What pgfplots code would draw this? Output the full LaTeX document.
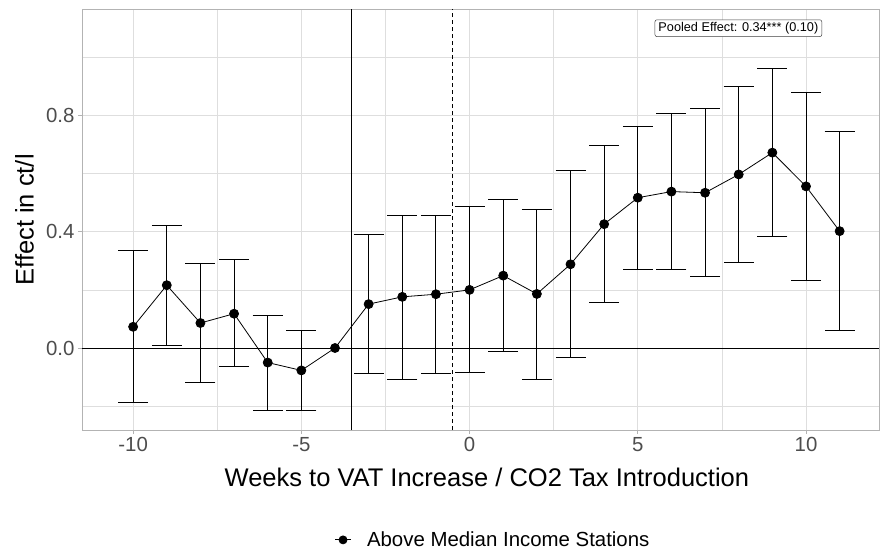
\documentclass[border=0pt]{standalone}
\usepackage{pgfplots}
\pgfplotsset{compat=1.18}
\usepackage{pgfplotstable}
\usepackage{fontspec}
\setmainfont{Liberation Sans}

\definecolor{gridgrey}{HTML}{DEDEDE}
\definecolor{bordergrey}{HTML}{B3B3B3}
\definecolor{ticktext}{HTML}{4D4D4D}

% event-study estimates with 95% confidence bounds
\pgfplotstableread{
x    y      lo      hi
-10  0.073  -0.188  0.334
-9   0.216   0.008  0.423
-8   0.086  -0.117  0.290
-7   0.118  -0.064  0.303
-6  -0.050  -0.214  0.112
-5  -0.077  -0.214  0.062
-4   0.000   0.000  0.000
-3   0.151  -0.087  0.390
-2   0.176  -0.107  0.457
-1   0.185  -0.087  0.456
0    0.200  -0.084  0.486
1    0.249  -0.013  0.512
2    0.186  -0.107  0.478
3    0.288  -0.033  0.609
4    0.426   0.157  0.696
5    0.517   0.271  0.761
6    0.538   0.270  0.807
7    0.534   0.245  0.823
8    0.597   0.296  0.899
9    0.672   0.382  0.960
10   0.556   0.231  0.879
11   0.402   0.062  0.745
}\est

\begin{document}
\begin{tikzpicture}
\path[use as bounding box] (-82pt,-120pt) rectangle (798pt,430pt);
\begin{axis}[
  scale only axis,
  width=797pt, height=421pt,
  xmin=-11.52, xmax=12.17,
  ymin=-0.282, ymax=1.166,
  xtick={-10,-5,0,5,10},
  xticklabels={-10,-5,0,5,10},
  ytick={0,0.4,0.8},
  yticklabels={0.0,0.4,0.8},
  minor xtick={-7.5,-2.5,2.5,7.5},
  minor ytick={-0.2,0.2,0.6,1.0},
  grid=both,
  major grid style={gridgrey, line width=0.7pt},
  minor grid style={gridgrey, line width=0.5pt},
  axis line style={bordergrey, line width=0.9pt},
  tick align=outside,
  major tick length=4pt,
  minor tick length=0pt,
  tick style={bordergrey, line width=0.7pt},
  xtick pos=bottom, ytick pos=left,
  ticklabel style={font=\fontsize{20.4}{24}\selectfont, text=ticktext},
  xlabel={Weeks to VAT Increase / CO2 Tax Introduction},
  ylabel={Effect in ct/l},
  label style={font=\fontsize{25.5}{30}\selectfont},
  xlabel style={at={(axis description cs:0.508,-0.112)}, anchor=center},
  ylabel style={at={(axis description cs:-0.072,0.499)}, anchor=center, rotate=0},
  legend style={at={(axis description cs:0.5157,-0.261)}, anchor=center,
    draw=none, fill=none, font=\fontsize{20.4}{24}\selectfont},
  legend cell align=left,
  legend image code/.code={
    \draw[black, line width=0.8pt] (0pt,0pt) -- (16pt,0pt);
    \fill[black] (8pt,0pt) circle (4pt);
    \path[draw=none, fill=none] (0pt,-1pt) rectangle (30pt,1pt);
  },
  clip=true,
]
% reference lines: zero effect, VAT increase, CO2 tax introduction
\addplot[black, line width=0.9pt, forget plot] coordinates {(-11.52,0) (12.17,0)};
\addplot[black, line width=0.9pt, forget plot] coordinates {(-3.5,-0.282) (-3.5,1.166)};
\addplot[black, line width=0.9pt, dash pattern=on 4pt off 3pt, forget plot] coordinates {(-0.5,-0.282) (-0.5,1.166)};

% confidence intervals (reference week -4 has none)
\addplot[draw=none, mark=none, forget plot,
  skip coords between index={6}{7},
  error bars/.cd, y dir=both, y explicit,
  error bar style={black, line width=0.9pt},
  error mark options={black, line width=0.9pt, mark size=15pt, rotate=90}]
  table[x=x, y=y,
        y error plus expr=\thisrow{hi}-\thisrow{y},
        y error minus expr=\thisrow{y}-\thisrow{lo}] {\est};

% point estimates
\addplot[black, line width=0.8pt, mark=*, mark size=4.5pt, mark options={solid}]
  table[x=x, y=y] {\est};
\addlegendentry{Above Median Income Stations}

\node[draw=black!75, rounded corners=2pt, fill=white, line width=0.5pt,
      inner xsep=3.5pt, inner ysep=2.5pt,
      font=\fontsize{12.7}{15}\selectfont]
  at (axis cs:7.99,1.100) {Pooled Effect: 0.34*** (0.10)};
\end{axis}
\end{tikzpicture}
\end{document}
